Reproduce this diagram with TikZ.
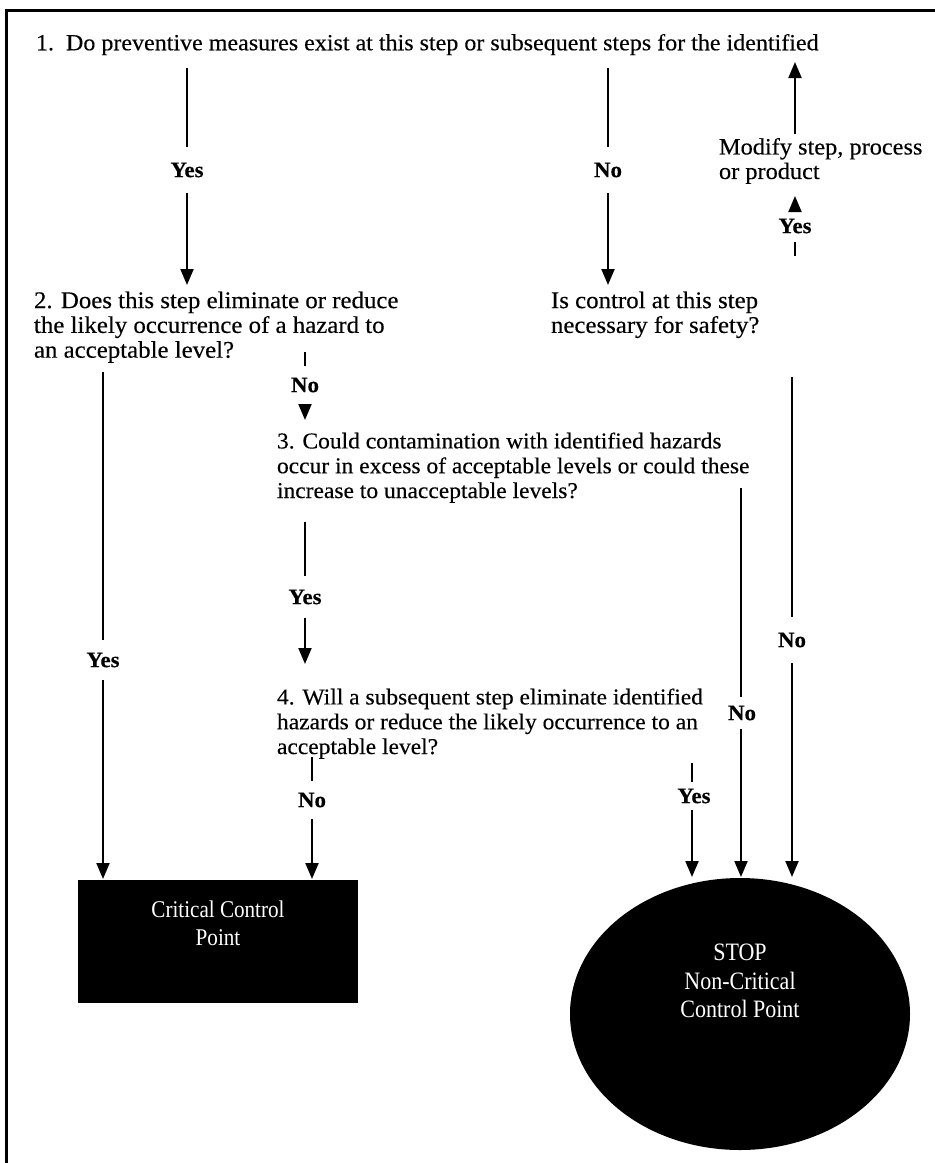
\documentclass[tikz,border=0pt]{standalone}
\usepackage{fontspec}
\setmainfont{Liberation Serif}[FakeStretch=1.04,FakeBold=0.3]
\newfontfamily\whitefont{Liberation Serif}[FakeStretch=0.88]
\usetikzlibrary{arrows.meta,shapes.geometric}

\tikzset{
  haccp/.style={x=1pt,y=-1pt,line width=2pt},
  qtext/.style={anchor=north west,align=left,inner sep=0pt,font=\fontsize{23.9}{24.8}\selectfont},
  qsmall/.style={qtext,font=\fontsize{22.6}{24.8}\selectfont},
  answer/.style={inner sep=0pt,font=\bfseries\fontsize{22}{24}\selectfont},
  arr/.style={-{Triangle[length=16pt,width=13pt]}},
  endnode/.style={fill=black,text=white,align=center,inner sep=0pt},
}

\begin{document}
\begin{tikzpicture}[haccp]
    \useasboundingbox (0,0) rectangle (935,1163);
    \draw[line width=3pt] (6,1163) -- (6,10) -- (935,10);

    % questions
    \node[qtext,font=\fontsize{23.1}{24.8}\selectfont] (q1) at (35,33) {1.\ \ Do preventive measures exist at this step or subsequent steps for the identified};
    \node[qtext,font=\fontsize{23.4}{24.5}\selectfont] (modify) at (718,137) {Modify step, process\\or product};
    \node[qtext] (ctrl) at (550,290.5) {Is control at this step\\necessary for safety?};
    \node[qtext] (q2) at (33,290.5) {2. Does this step eliminate or reduce\\the likely occurrence of a hazard to\\an acceptable level?};
    \node[qsmall] (q3) at (276,431.5) {3. Could contamination with identified hazards\\occur in excess of acceptable levels or could these\\increase to unacceptable levels?};
    \node[qsmall] (q4) at (276,687.5) {4. Will a subsequent step eliminate identified\\hazards or reduce the likely occurrence to an\\acceptable level?};

    % end points
    \node[endnode,minimum width=280pt,minimum height=123pt,text depth=36pt,
          font=\whitefont\fontsize{24}{28}\selectfont] (ccp) at (218,941.5) {Critical Control\\Point};
    \node[endnode,ellipse,minimum width=340pt,minimum height=272pt,text depth=66pt,
          font=\whitefont\fontsize{25}{28.5}\selectfont] (stop) at (740,1014) {STOP\\Non-Critical\\Control Point};

    % answers
    \node[answer,minimum height=44pt] (ya) at (187,170) {Yes};
    \node[answer,minimum height=44pt] (na) at (608,170) {No};
    \node[answer,minimum height=30pt] (yb) at (795,226) {Yes};
    \node[answer,minimum height=38pt] (yc) at (103,660) {Yes};
    \node[answer,minimum height=36pt] (nb) at (305,385) {No};
    \node[answer,minimum height=40pt] (yd) at (305,597) {Yes};
    \node[answer,minimum height=36pt] (nc) at (312,800) {No};
    \node[answer,minimum height=26pt] (ye) at (694,796) {Yes};
    \node[answer,minimum height=30pt] (nd) at (742,713) {No};
    \node[answer,minimum height=44pt] (ne) at (792,640) {No};

    \coordinate (a0) at (187,68);  \coordinate (a1) at (187,285);
    \coordinate (b0) at (608,68);  \coordinate (b1) at (608,285);
    \coordinate (m0) at (795,134); \coordinate (m1) at (795,62);
    \coordinate (c0) at (795,256); \coordinate (m2) at (795,196);
    \coordinate (d0) at (103,372);
    \coordinate (e0) at (305,352); \coordinate (e1) at (305,420);
    \coordinate (f0) at (305,522); \coordinate (f1) at (305,664);
    \coordinate (g0) at (312,757);
    \coordinate (h0) at (692,763);
    \coordinate (i0) at (741,488);
    \coordinate (j0) at (792,377);

    % connectors
    \draw (a0) -- (ya);  \draw[arr] (ya) -- (a1);
    \draw (b0) -- (na);  \draw[arr] (na) -- (b1);
    \draw[arr] (m0) -- (m1);
    \draw (c0) -- (yb);  \draw[arr] (yb) -- (m2);
    \draw (d0) -- (yc);  \draw[arr] (yc) -- (yc |- ccp.north);
    \draw (e0) -- (nb);  \draw[arr] (nb) -- (e1);
    \draw (f0) -- (yd);  \draw[arr] (yd) -- (f1);
    \draw (g0) -- (nc);  \draw[arr] (nc) -- (nc |- ccp.north);
    \draw (h0) -- (h0 |- ye.north);  \draw[arr] (h0 |- ye.south) -- (h0 |- stop.north);
    \draw (i0) -- (i0 |- nd.north);  \draw[arr] (i0 |- nd.south) -- (i0 |- stop.north);
    \draw (j0) -- (ne);  \draw[arr] (ne) -- (ne |- stop.north);
\end{tikzpicture}
\end{document}
